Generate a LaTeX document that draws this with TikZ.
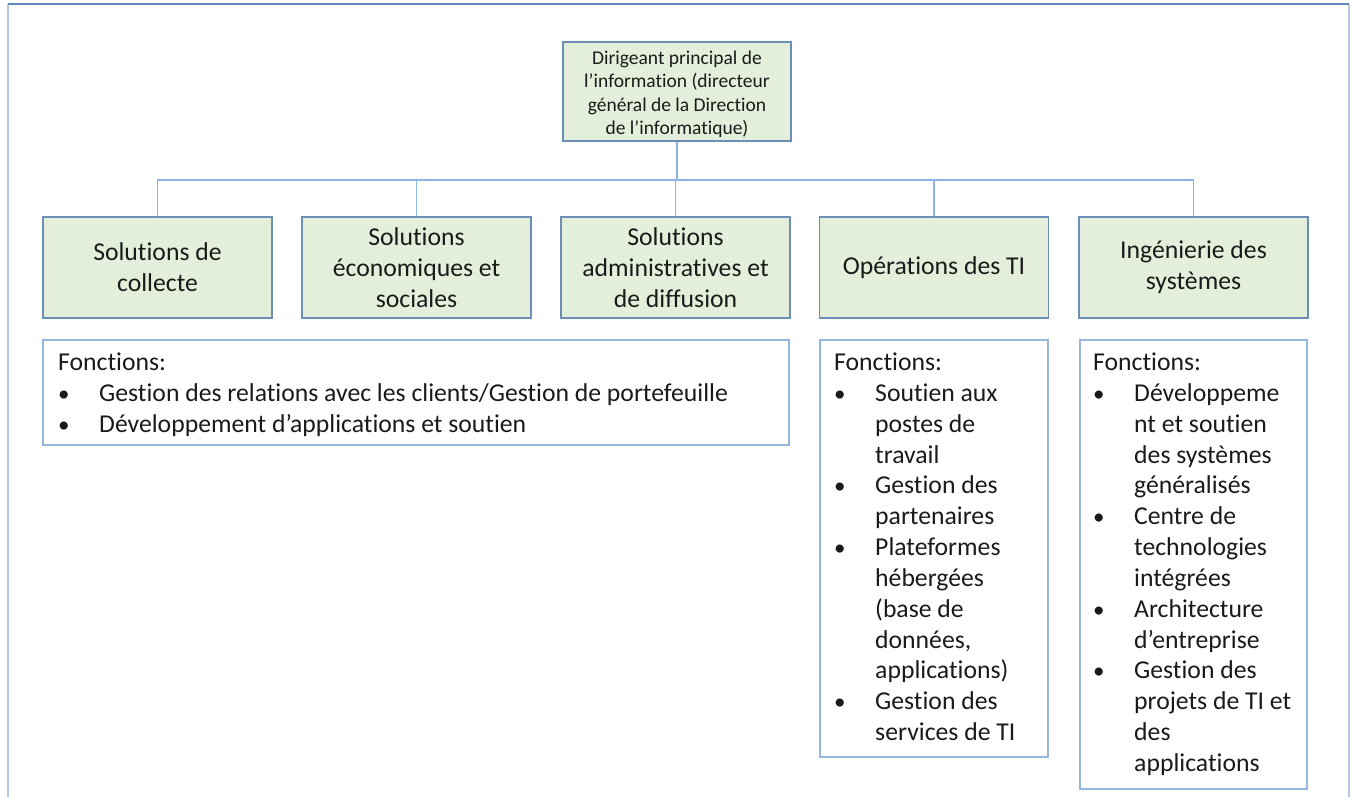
\documentclass[tikz,border=0pt]{standalone}
\usepackage{fontspec}
\setmainfont{Carlito}[Ligatures=CommonOff]
\definecolor{boxfill}{HTML}{E3EFDA}
\definecolor{boxline}{HTML}{6D8EB6}
\definecolor{conn}{HTML}{8DB4E2}
\definecolor{fnline}{HTML}{95B8E0}
\definecolor{frametop}{HTML}{5E88BE}
\definecolor{frameside}{HTML}{B4C8E0}
\definecolor{txt}{HTML}{1A1A1A}
\tikzset{
  topbox/.style={draw=boxline, fill=boxfill, line width=1.2pt, minimum width=228pt, minimum height=99pt, inner sep=0pt, align=center, text=txt, font=\fontsize{19.5}{23.5}\selectfont},
  unitbox/.style={draw=boxline, fill=boxfill, line width=1.2pt, minimum width=229pt, minimum height=101pt, inner sep=0pt, align=center, text=txt, font=\fontsize{25.7}{31}\selectfont},
  fnbox/.style={draw=fnline, line width=1.2pt, inner sep=0pt},
  fntext/.style={anchor=base west, inner sep=0pt, text=txt, font=\fontsize{25.7}{31}\selectfont},
  bullet/.style={anchor=base west, inner sep=0pt, text=txt, font=\fontsize{23}{31}\selectfont},
  conline/.style={draw=conn, line width=1.5pt},
}
\begin{document}
\begin{tikzpicture}[x=1pt,y=-1pt]
\useasboundingbox (0,0) rectangle (1351,797);
% outer frame
\coordinate (fl) at (8,797);
\coordinate (ftl) at (8,4);
\coordinate (ftr) at (1349,4);
\coordinate (fr) at (1349,797);
\draw[frameside, line width=1.5pt] (fl) -- (ftl);
\draw[frameside, line width=1.5pt] (ftr) -- (fr);
\draw[frametop, line width=1.5pt] (ftl) -- (ftr);

% top box
\node[topbox] (top) at (677,91.5) {\rule{0pt}{19pt}Dirigeant principal de\\l’information (directeur\\général de la Direction\\de l’informatique)};

% units
\node[unitbox] (u1) at (157.5,267.5) {Solutions de\\collecte};
\node[unitbox] (u2) at (416.5,267.5) {Solutions\\économiques et\\sociales};
\node[unitbox] (u3) at (675.5,267.5) {Solutions\\administratives et\\de diffusion};
\node[unitbox] (u4) at (934,267.5) {Opérations des TI};
\node[unitbox] (u5) at (1193.5,267.5) {Ingénierie des\\systèmes};

% connectors
\coordinate (bus) at (677,180);
\draw[conline] (top.south) -- (bus);
\draw[conline] (u1.north) |- (bus);
\draw[conline] (u2.north) |- (bus);
\draw[conline] (u3.north) -- (u3.north |- bus);
\draw[conline] (u4.north) |- (bus);
\draw[conline] (u5.north) |- (bus);

% function boxes
\draw[fnbox] (43,340) rectangle (789,445);
\draw[fnbox] (820,340) rectangle (1048,757);
\draw[fnbox] (1080,340) rectangle (1307,789);

% box 1 text
\node[fntext] (a0) at (58,370) {Fonctions:};
\node[bullet] (ab1) at (58,401) {•};
\node[fntext] (a1) at (99,401) {Gestion des relations avec les clients/Gestion de portefeuille};
\node[bullet] (ab2) at (58,432) {•};
\node[fntext] (a2) at (99,432) {Développement d’applications et soutien};

% box 2 text
\node[fntext] (b0) at (834,370) {Fonctions:};
\node[bullet] (bb1) at (834,401) {•};
\node[fntext] (b1) at (875,401) {Soutien aux};
\node[fntext] (b2) at (875,432) {postes de};
\node[fntext] (b3) at (875,463) {travail};
\node[bullet] (bb4) at (834,493) {•};
\node[fntext] (b4) at (875,493) {Gestion des};
\node[fntext] (b5) at (875,524) {partenaires};
\node[bullet] (bb6) at (834,555) {•};
\node[fntext] (b6) at (875,555) {Plateformes};
\node[fntext] (b7) at (875,586) {hébergées};
\node[fntext] (b8) at (875,617) {(base de};
\node[fntext] (b9) at (875,648) {données,};
\node[fntext] (b10) at (875,678) {applications)};
\node[bullet] (bb11) at (834,709) {•};
\node[fntext] (b11) at (875,709) {Gestion des};
\node[fntext] (b12) at (875,740) {services de TI};

% box 3 text
\node[fntext] (c0) at (1093,370) {Fonctions:};
\node[bullet] (cb1) at (1093,401) {•};
\node[fntext] (c1) at (1134,401) {Développeme};
\node[fntext] (c2) at (1134,432) {nt et soutien};
\node[fntext] (c3) at (1134,463) {des systèmes};
\node[fntext] (c4) at (1134,493) {généralisés};
\node[bullet] (cb5) at (1093,524) {•};
\node[fntext] (c5) at (1134,524) {Centre de};
\node[fntext] (c6) at (1134,555) {technologies};
\node[fntext] (c7) at (1134,586) {intégrées};
\node[bullet] (cb8) at (1093,617) {•};
\node[fntext] (c8) at (1134,617) {Architecture};
\node[fntext] (c9) at (1134,648) {d’entreprise};
\node[bullet] (cb10) at (1093,678) {•};
\node[fntext] (c10) at (1134,678) {Gestion des};
\node[fntext] (c11) at (1134,709) {projets de TI et};
\node[fntext] (c12) at (1134,740) {des};
\node[fntext] (c13) at (1134,771) {applications};
\end{tikzpicture}
\end{document}
